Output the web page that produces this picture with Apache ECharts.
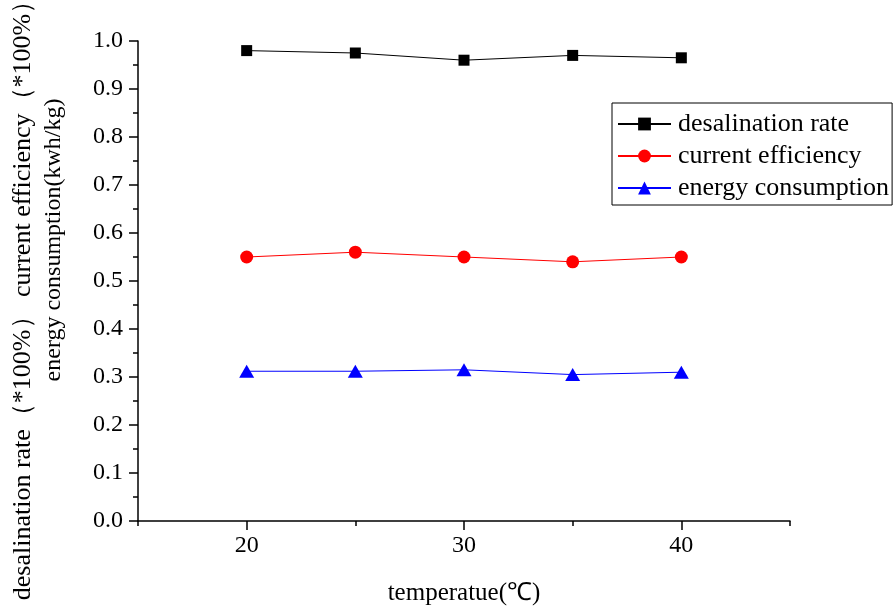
<!DOCTYPE html>
<html>
<head>
<meta charset="utf-8">
<script src="https://cdn.jsdelivr.net/npm/echarts@6/dist/echarts.min.js"></script>
<style>html,body{margin:0;padding:0;background:#fff}#c{width:893px;height:606px}</style>
</head>
<body>
<div id="c"></div>
<script>
const temperature = [20, 25, 30, 35, 40];
const desalinationRate = [0.98, 0.975, 0.96, 0.97, 0.965];
const currentEfficiency = [0.55, 0.56, 0.55, 0.54, 0.55];
const energyConsumption = [0.312, 0.312, 0.315, 0.305, 0.31];
const xMajorTicks = [20, 30, 40];
const xMinorTicks = [15, 25, 35, 45];
const seriesNames = ['desalination rate', 'current efficiency', 'energy consumption'];
const yTitle1 = 'desalination rate（*100%） current efficiency（*100%）';
const yTitle2 = 'energy consumption(kwh/kg)';
const xTitle = 'temperatue(℃)';

const FONT = '"Liberation Serif", "Times New Roman", serif';
const pair = (xs, ys) => xs.map((x, i) => [x, ys[i]]);

const chart = echarts.init(document.getElementById('c'), null, {renderer: 'canvas'});
chart.setOption({
  animation: false,
  backgroundColor: '#fff',
  textStyle: {fontFamily: FONT, color: '#000'},
  grid: {left: 138, right: 103, top: 41, bottom: 85, containLabel: false, outerBoundsMode: 'none'},
  legend: {
    orient: 'vertical',
    left: 612, top: 103,
    padding: [8, 3, 4, 5],
    itemGap: 6,
    itemWidth: 53,
    itemHeight: 16,
    borderColor: '#000',
    borderWidth: 1,
    textStyle: {fontFamily: FONT, fontSize: 26, color: '#000', padding: [0, 0, 0, 2]},
    data: seriesNames
  },
  xAxis: [{
    type: 'value', min: 15, max: 45,
    axisLine: {show: true, onZero: false, lineStyle: {color: '#000', width: 1.5}},
    axisTick: {show: true, customValues: xMajorTicks, length: 9, lineStyle: {color: '#000', width: 1.5}},
    axisLabel: {customValues: xMajorTicks, fontFamily: FONT, fontSize: 24, color: '#000', margin: 13},
    splitLine: {show: false},
    name: xTitle, nameLocation: 'middle', nameGap: 60,
    nameTextStyle: {fontFamily: FONT, fontSize: 25, color: '#000'}
  }, {
    type: 'value', min: 15, max: 45, position: 'bottom',
    axisLine: {show: false},
    axisTick: {show: true, customValues: xMinorTicks, length: 5, lineStyle: {color: '#000', width: 1.5}},
    axisLabel: {show: false},
    splitLine: {show: false}
  }],
  yAxis: [{
    type: 'value', min: 0, max: 1, interval: 0.1,
    axisLine: {show: true, onZero: false, lineStyle: {color: '#000', width: 1.5}},
    axisTick: {show: true, length: 9, lineStyle: {color: '#000', width: 1.5}},
    minorTick: {show: true, splitNumber: 2, length: 5, lineStyle: {color: '#000', width: 1.5}},
    axisLabel: {fontFamily: FONT, fontSize: 24, color: '#000', margin: 15, formatter: v => v.toFixed(1)},
    splitLine: {show: false},
    name: yTitle1, nameLocation: 'middle', nameGap: 102, nameRotate: 90,
    nameTextStyle: {fontFamily: FONT, fontSize: 26, color: '#000', padding: [0, 26, 0, 0]}
  }, {
    type: 'value', min: 0, max: 1, position: 'left',
    axisLine: {show: false}, axisTick: {show: false}, axisLabel: {show: false}, splitLine: {show: false},
    name: yTitle2, nameLocation: 'middle', nameGap: 72, nameRotate: 90,
    nameTextStyle: {fontFamily: FONT, fontSize: 24, color: '#000', padding: [0, 0, 0, 82]}
  }],
  series: [{
    name: seriesNames[0], type: 'line', data: pair(temperature, desalinationRate),
    symbol: 'rect', symbolSize: 11,
    lineStyle: {color: '#000', width: 1}, itemStyle: {color: '#000'}
  }, {
    name: seriesNames[1], type: 'line', data: pair(temperature, currentEfficiency),
    symbol: 'circle', symbolSize: 13,
    lineStyle: {color: '#ff0000', width: 1}, itemStyle: {color: '#ff0000'}
  }, {
    name: seriesNames[2], type: 'line', data: pair(temperature, energyConsumption),
    symbol: 'triangle', symbolSize: [15, 13],
    lineStyle: {color: '#0000ff', width: 1}, itemStyle: {color: '#0000ff'}
  }]
});
</script>
</body>
</html>
